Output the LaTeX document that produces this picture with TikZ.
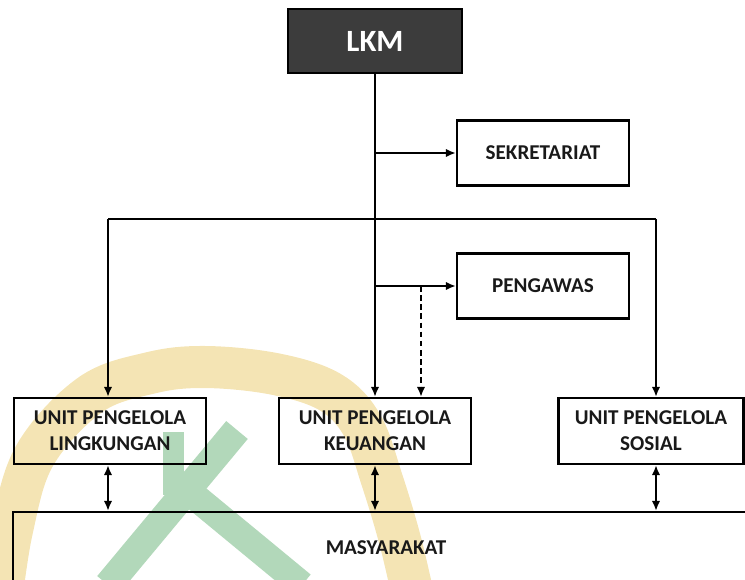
\documentclass[tikz,border=0pt]{standalone}
\usepackage{fontspec}
\setmainfont{Carlito}
\usetikzlibrary{arrows.meta}
\definecolor{lkmgray}{RGB}{60,60,60}
\definecolor{wmyellow}{RGB}{244,228,180}
\definecolor{wmgreen}{RGB}{178,216,186}
\tikzset{
  unit/.style={draw, line width=1.7pt, inner sep=0pt, align=center, text=black!90,
    font=\fontsize{15}{18.5}\selectfont\bfseries},
  link/.style={line width=1.3pt},
  arr/.style={link, -{Latex[length=7pt,width=6pt]}},
  darr/.style={link, {Latex[length=7pt,width=6pt]}-{Latex[length=7pt,width=6pt]}},
}

\begin{document}
\begin{tikzpicture}[x=0.025cm, y=-0.025cm]
\useasboundingbox (0,0) rectangle (745,580);
\clip (0,0) rectangle (745,580);
% watermark behind the chart
\draw[wmyellow, line width=1.05cm] plot [smooth, tension=0.6] coordinates
  {(0,610) (12,530) (35,455) (90,395) (150,373) (205,367) (275,374) (330,392) (362,425) (382,480) (400,540) (414,600)};
\draw[wmgreen, line width=0.7cm] (237,430) -- (108,585);
\draw[wmgreen, line width=0.68cm] (182,486) -- (302,585);
\fill[wmgreen] (163,432) rectangle (184,495);

% boxes
\node[unit, fill=lkmgray, text=white, font=\fontsize{22}{26}\selectfont\bfseries,
  minimum width=4.35cm, minimum height=1.6cm] (lkm) at (375,41) {LKM};
\node[unit, minimum width=4.3cm, minimum height=1.625cm] (sek) at (543,153) {SEKRETARIAT};
\node[unit, minimum width=4.3cm, minimum height=1.625cm] (pgw) at (543,286) {PENGAWAS};
\node[unit, minimum width=4.8cm, minimum height=1.65cm] (lin) at (110,431) {UNIT PENGELOLA\\LINGKUNGAN};
\node[unit, minimum width=4.8cm, minimum height=1.65cm] (keu) at (375,431) {UNIT PENGELOLA\\KEUANGAN};
\node[unit, minimum width=4.625cm, minimum height=1.65cm] (sos) at (651,431) {UNIT PENGELOLA\\SOSIAL};
\node[unit, minimum width=18.65cm, minimum height=1.8cm] (masy) at (386,548) {MASYARAKAT};

% branch points
\coordinate (jl) at (108,219);
\coordinate (jr) at (656,219);
\coordinate (ds) at (421,286);

% connectors
\draw[arr] (lkm.south) -- (keu.north);
\draw[arr] (lkm.south |- sek.west) -- (sek.west);
\draw[arr] (lkm.south |- pgw.west) -- (pgw.west);
\draw[link] (jl) -- (jr);
\draw[arr] (jl) -- (jl |- lin.north);
\draw[arr] (jr) -- (jr |- sos.north);
\draw[arr, dash pattern=on 4pt off 2.5pt] (ds) -- (ds |- keu.north);
\draw[darr] (jl |- lin.south) -- (jl |- masy.north);
\draw[darr] (keu.south) -- (keu.south |- masy.north);
\draw[darr] (jr |- sos.south) -- (jr |- masy.north);
\end{tikzpicture}
\end{document}
